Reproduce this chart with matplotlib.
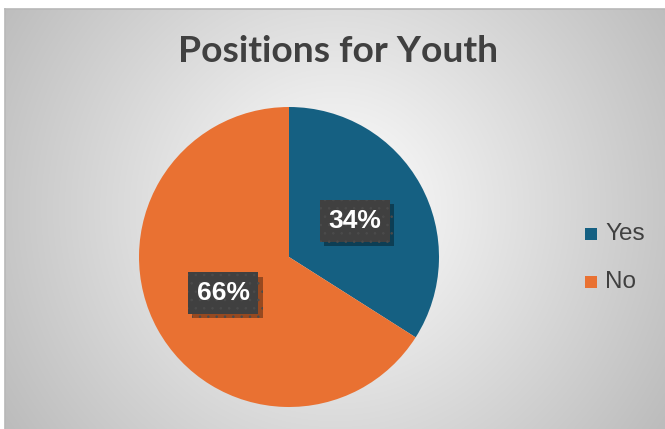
import numpy as np
import matplotlib
matplotlib.use("Agg")
import matplotlib.pyplot as plt
from matplotlib import patheffects

categories = ["Yes", "No"]
values = [34, 66]
colors = ["#156082", "#E97132"]
title = "Positions for Youth"

plt.rcParams["hatch.linewidth"] = 0.6

W, H = 665, 429
fig = plt.figure(figsize=(W / 100, H / 100), dpi=100)
fig.patch.set_facecolor("white")

# Background chart area with radial gradient
bx0, by_top = 5, 9
bg = fig.add_axes([bx0 / W, 0, (W - bx0) / W, (H - by_top) / H])
ny, nx = 420, 660
yy, xx = np.mgrid[0:ny, 0:nx]
cx, cy = 330, 200
r = np.sqrt(((xx - cx) / 420) ** 2 + ((yy - cy) / 420) ** 2)
val = 1.0 - 0.28 * np.clip(r, 0, 1.2)
val = np.clip(val, 0.74, 1.0)
img = np.dstack([val, val, val])
bg.imshow(img, aspect="auto", extent=[0, nx, ny, 0], interpolation="bilinear")
bg.set_xticks([])
bg.set_yticks([])
for s in bg.spines.values():
    s.set_color("#b8b8b8")
    s.set_linewidth(1.2)
bg.spines["right"].set_visible(False)
bg.spines["bottom"].set_visible(False)

fig.text(338 / W, 1 - 52 / H, title, ha="center", va="center",
         fontsize=26.8, fontweight="bold", color="#404040", family="Lato")

# Pie
pcx, pcy, R = 289, 257, 150
ax = fig.add_axes([(pcx - R) / W, (H - pcy - R) / H, 2 * R / W, 2 * R / H])
wedges, texts, autotexts = ax.pie(values, colors=colors, startangle=90, counterclock=False,
                                  radius=1, autopct="%1.0f%%", pctdistance=0.5,
                                  wedgeprops=dict(linewidth=0),
                                  textprops=dict(color="white", fontsize=19, fontweight="bold",
                                                 family="Liberation Sans"))
ax.set_aspect("auto")
ax.set_xlim(-1, 1)
ax.set_ylim(-1, 1)
ax.axis("off")
for t in autotexts:
    t.set_bbox(dict(boxstyle="square,pad=0.33", facecolor="#404040", edgecolor="#4b4b4b",
                    linewidth=0, hatch=".."))
    t.get_bbox_patch().set_path_effects([
        patheffects.withSimplePatchShadow(offset=(3, -3), shadow_rgbFace="black", alpha=0.35)])

# Legend
leg_items = [(categories[0], colors[0], 234), (categories[1], colors[1], 282)]
for name, col, ypix in leg_items:
    fig.patches.append(plt.Rectangle((585 / W, 1 - (ypix + 6) / H), 12 / W, 12 / H,
                                     transform=fig.transFigure, facecolor=col, edgecolor="none"))
    fig.text(605 / W, 1 - ypix / H, name, ha="left", va="center", fontsize=17.5,
             color="#404040", family="Liberation Sans")

fig.savefig("out.png", dpi=100)
